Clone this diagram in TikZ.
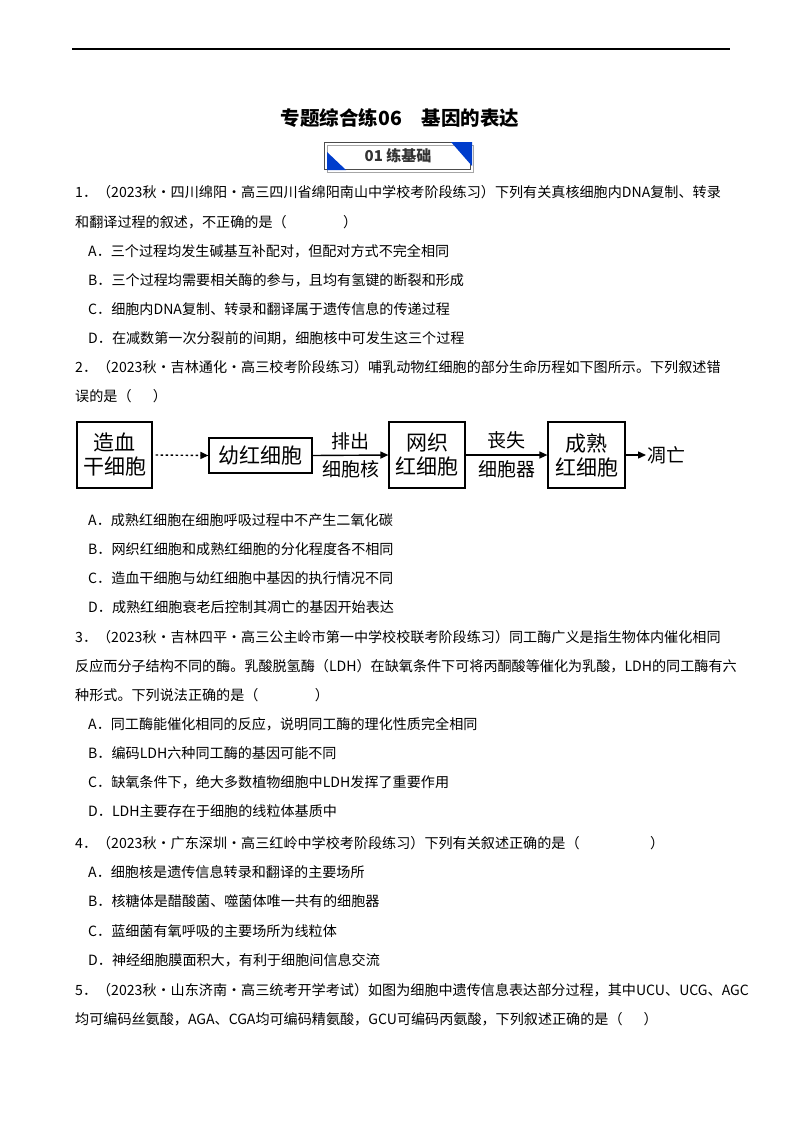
\documentclass[tikz,border=0pt]{standalone}
\usepackage{fontspec}
\setmainfont{Noto Sans CJK SC}
\usetikzlibrary{arrows.meta}
\tikzset{
 txt/.style={anchor=base west,inner sep=0pt,font=\fontsize{14.1}{15}\selectfont},
 cbox/.style={draw,line width=1.2pt,align=center,inner sep=2pt,font=\fontsize{21}{24}\selectfont},
 lab/.style={font=\fontsize{19}{21}\selectfont,inner sep=1pt},
 arr/.style={-{Triangle[length=8pt,width=7pt]},line width=1.4pt}
}
\begin{document}
\begin{tikzpicture}[x=1pt,y=-1pt]
\useasboundingbox[fill=white] (0,0) rectangle (800,1132);
\draw[line width=1.2pt] (72,49) -- (730,49);
\node[font=\fontsize{19.5}{22}\selectfont\bfseries] (title) at (400,118) {专题综合练06\quad 基因的表达};
% badge
\draw[gray!70,line width=0.8pt] (327,145) rectangle (473,172);
\draw[black!70,line width=0.6pt] (324,142) rectangle (470,169);
\fill[blue!70!cyan!80!black] (327,152) -- (327,170) -- (346,170) -- cycle;
\fill[blue!70!cyan!80!black] (451,142) -- (472,142) -- (472,166) -- cycle;
\node[font=\fontsize{15}{17}\selectfont\bfseries,text=black!80] (badge) at (398,156) {01 练基础};
% Q1
\node[txt] (q1a) at (75,197) {1．（2023秋・四川绵阳・高三四川省绵阳南山中学校考阶段练习）下列有关真核细胞内DNA复制、转录};
\node[txt] (q1b) at (75,227) {和翻译过程的叙述，不正确的是（\hspace{4em}）};
\node[txt] (q1A) at (88,256) {A．三个过程均发生碱基互补配对，但配对方式不完全相同};
\node[txt] (q1B) at (88,285) {B．三个过程均需要相关酶的参与，且均有氢键的断裂和形成};
\node[txt] (q1C) at (88,314) {C．细胞内DNA复制、转录和翻译属于遗传信息的传递过程};
\node[txt] (q1D) at (88,343) {D．在减数第一次分裂前的间期，细胞核中可发生这三个过程};
% Q2
\node[txt] (q2a) at (75,372) {2．（2023秋・吉林通化・高三校考阶段练习）哺乳动物红细胞的部分生命历程如下图所示。下列叙述错};
\node[txt] (q2b) at (75,401) {误的是（\hspace{1.5em}）};
% diagram
\node[cbox,minimum width=75pt,minimum height=66pt] (b1) at (114.5,455) {造血\\干细胞};
\node[cbox,minimum width=103pt,minimum height=35pt] (b2) at (260.5,455.5) {幼红细胞};
\node[cbox,minimum width=76pt,minimum height=66pt] (b3) at (427,455) {网织\\红细胞};
\node[cbox,minimum width=77pt,minimum height=66pt] (b4) at (586.5,455) {成熟\\红细胞};
\node[lab,anchor=west] (die) at (646,455) {凋亡};
\draw[arr,dash pattern=on 2.5pt off 2.5pt] (b1.east) ++(3,0) -- (b2.west);
\draw[arr] (b2.east) -- (b3.west) node[lab,midway,above=4pt] {排出} node[lab,midway,below=4pt] {细胞核};
\draw[arr] (b3.east) -- (b4.west) node[lab,midway,above=4pt] {丧失} node[lab,midway,below=4pt] {细胞器};
\draw[arr] (b4.east) -- (die.west);
\node[txt] (q2A) at (88,525) {A．成熟红细胞在细胞呼吸过程中不产生二氧化碳};
\node[txt] (q2B) at (88,554) {B．网织红细胞和成熟红细胞的分化程度各不相同};
\node[txt] (q2C) at (88,583) {C．造血干细胞与幼红细胞中基因的执行情况不同};
\node[txt] (q2D) at (88,612) {D．成熟红细胞衰老后控制其凋亡的基因开始表达};
% Q3
\node[txt] (q3a) at (75,642) {3．（2023秋・吉林四平・高三公主岭市第一中学校校联考阶段练习）同工酶广义是指生物体内催化相同};
\node[txt] (q3b) at (75,671) {反应而分子结构不同的酶。乳酸脱氢酶（LDH）在缺氧条件下可将丙酮酸等催化为乳酸，LDH的同工酶有六};
\node[txt] (q3c) at (75,700) {种形式。下列说法正确的是（\hspace{4em}）};
\node[txt] (q3A) at (88,729) {A．同工酶能催化相同的反应，说明同工酶的理化性质完全相同};
\node[txt] (q3B) at (88,758) {B．编码LDH六种同工酶的基因可能不同};
\node[txt] (q3C) at (88,787) {C．缺氧条件下，绝大多数植物细胞中LDH发挥了重要作用};
\node[txt] (q3D) at (88,816) {D．LDH主要存在于细胞的线粒体基质中};
% Q4
\node[txt] (q4a) at (75,848) {4．（2023秋・广东深圳・高三红岭中学校考阶段练习）下列有关叙述正确的是（\hspace{5em}）};
\node[txt] (q4A) at (88,877) {A．细胞核是遗传信息转录和翻译的主要场所};
\node[txt] (q4B) at (88,906) {B．核糖体是醋酸菌、噬菌体唯一共有的细胞器};
\node[txt] (q4C) at (88,936) {C．蓝细菌有氧呼吸的主要场所为线粒体};
\node[txt] (q4D) at (88,965) {D．神经细胞膜面积大，有利于细胞间信息交流};
% Q5
\node[txt] (q5a) at (75,995) {5．（2023秋・山东济南・高三统考开学考试）如图为细胞中遗传信息表达部分过程，其中UCU、UCG、AGC};
\node[txt] (q5b) at (75,1024) {均可编码丝氨酸，AGA、CGA均可编码精氨酸，GCU可编码丙氨酸，下列叙述正确的是（\hspace{1.5em}）};
\end{tikzpicture}
\end{document}
